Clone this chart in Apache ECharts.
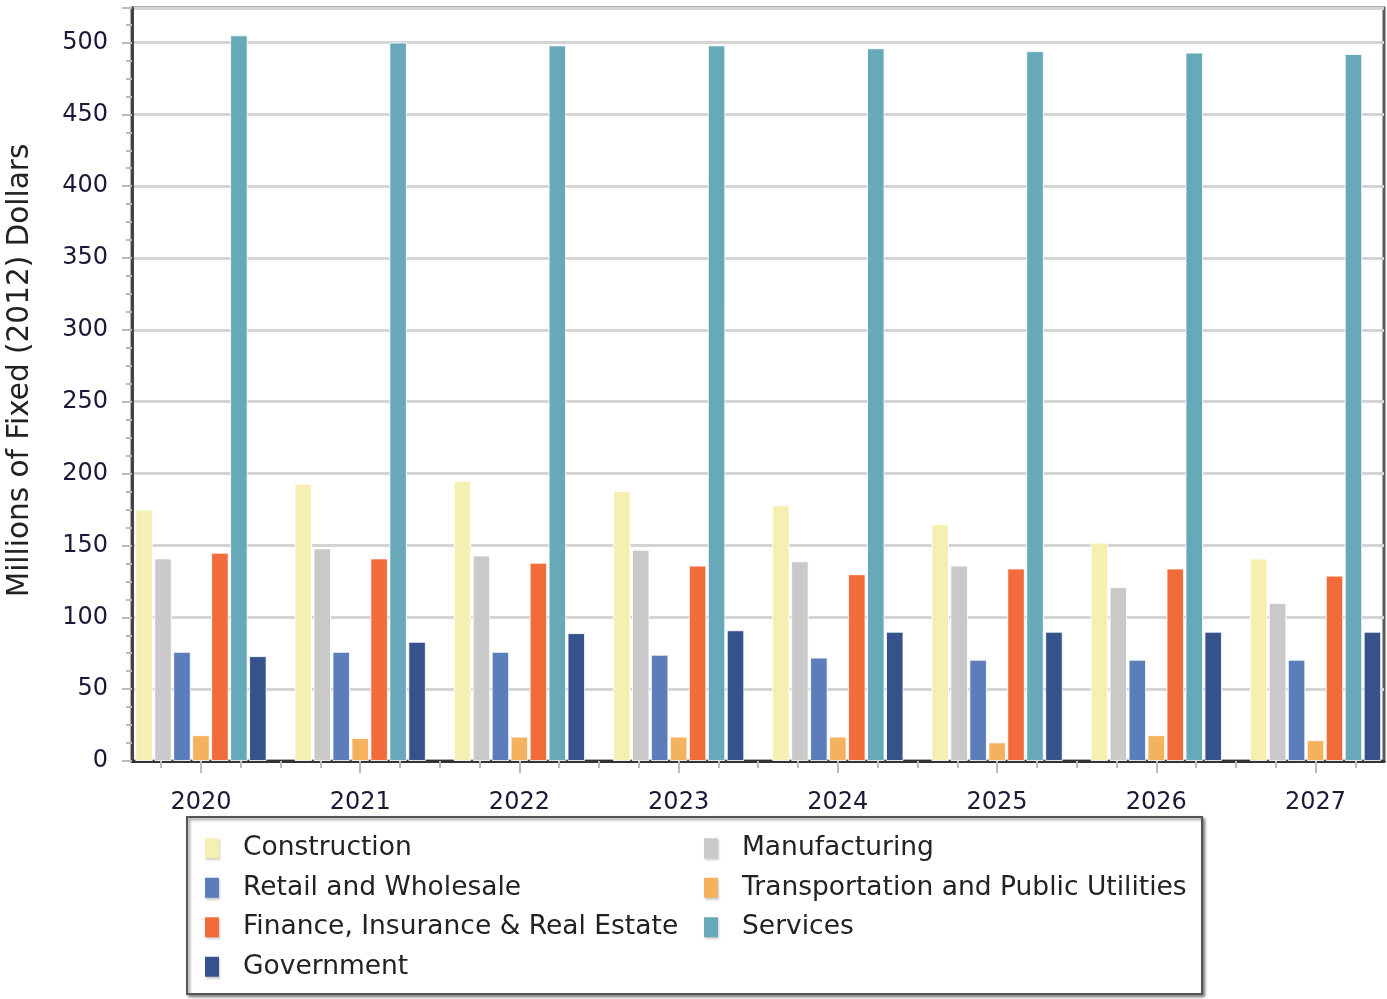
<!DOCTYPE html>
<html>
<head>
<meta charset="UTF-8">
<title>Output by Industry</title>
<script src="https://cdn.jsdelivr.net/npm/echarts@6.0.0/dist/echarts.min.js"></script>
<style>
  html, body { margin: 0; padding: 0; background: #fff; }
  #chart { width: 1387px; height: 999px; }
</style>
</head>
<body>
<div id="chart"></div>
<script>
// years on the x axis
var years = [2020, 2021, 2022, 2023, 2024, 2025, 2026, 2027];

// values, millions of fixed (2012) dollars
var construction  = [175, 193, 195, 188, 178, 165, 152, 141];
var manufacturing = [141, 148, 143, 147, 139, 136, 121, 110];
var retail        = [76, 76, 76, 74, 72, 70.5, 70.5, 70.5];
var transport     = [18, 16, 17, 17, 17, 13, 18, 14.5];
var finance       = [145, 141, 138, 136, 130, 134, 134, 129];
var services      = [505, 500, 498, 498, 496, 494, 493, 492];
var government    = [73, 83, 89, 91, 90, 90, 90, 90];

var names = ['Construction', 'Manufacturing', 'Retail and Wholesale',
  'Transportation and Public Utilities', 'Finance, Insurance & Real Estate',
  'Services', 'Government'];
var values = [construction, manufacturing, retail, transport, finance, services, government];
var colors = ['#f6efb2', '#c9c9c9', '#5b7dba', '#f4b15e', '#f26b3a', '#67a9b9', '#36528a'];

var xMin = 2019.567, xMax = 2027.43;

// small ticks every quarter year
var minorTicks = [];
years.forEach(function (y) {
  [-0.25, 0, 0.25, 0.5].forEach(function (d) {
    if (y + d > xMin && y + d < xMax) minorTicks.push(y + d);
  });
});

var labelFont = 'DejaVu Sans';
var labelColor = '#1a1a38';

var series = names.map(function (n, i) {
  return {
    name: n,
    type: 'bar',
    xAxisIndex: 0,
    barGap: '8%',
    barCategoryGap: '17.5%',
    data: years.map(function (y, j) { return [y, values[i][j]]; }),
    itemStyle: { color: colors[i], borderColor: 'rgba(255,255,255,0.85)', borderWidth: 1 },
    emphasis: { disabled: true }
  };
});

var chart = echarts.init(document.getElementById('chart'));
chart.setOption({
  animation: false,
  backgroundColor: '#fff',
  grid: {
    left: 132, right: 3, top: 8, bottom: 238,
    outerBoundsMode: 'none',
    show: true, backgroundColor: '#fff',
    borderColor: '#5a5a5a', borderWidth: 3
  },
  legend: {
    data: names,
    left: 187, top: 817,
    width: 1010,
    orient: 'horizontal',
    icon: 'rect',
    itemWidth: 14, itemHeight: 20,
    itemGap: 11,
    padding: [17, 10, 13, 18],
    backgroundColor: '#fff',
    borderColor: '#555', borderWidth: 2,
    shadowColor: 'rgba(0,0,0,0.45)', shadowBlur: 3, shadowOffsetX: 2, shadowOffsetY: 2,
    itemStyle: { borderWidth: 0, shadowColor: 'rgba(0,0,0,0.2)', shadowBlur: 2, shadowOffsetX: 1, shadowOffsetY: 2 },
    textStyle: {
      fontFamily: labelFont, fontSize: 26.5, color: '#222',
      width: 450, lineHeight: 28.5, padding: [0, 0, 0, 19]
    },
    selectedMode: false
  },
  xAxis: [{
    type: 'value',
    min: xMin, max: xMax,
    position: 'bottom',
    axisLine: { show: true, lineStyle: { color: '#333', width: 3 } },
    axisTick: { show: true, customValues: minorTicks, length: 7, lineStyle: { color: '#bbb', width: 2 } },
    axisLabel: {
      customValues: years,
      formatter: function (v) { return String(Math.round(v)); },
      fontFamily: labelFont, fontSize: 24, color: labelColor, margin: 30
    },
    splitLine: { show: false }
  }, {
    type: 'value',
    min: xMin, max: xMax,
    position: 'bottom',
    axisLine: { show: false },
    axisTick: { show: true, customValues: years, length: 12, lineStyle: { color: '#bbb', width: 2 } },
    axisLabel: { show: false },
    splitLine: { show: false }
  }],
  yAxis: {
    type: 'value',
    min: 0, max: 524, interval: 50,
    name: 'Millions of Fixed (2012) Dollars',
    nameLocation: 'middle',
    nameGap: 97,
    nameTextStyle: { fontFamily: labelFont, fontSize: 29.5, color: '#222', padding: [0, 0, 0, 28] },
    axisLine: { show: true, lineStyle: { color: '#444', width: 3 } },
    axisTick: { show: true, length: 10, lineStyle: { color: '#bbb', width: 2 } },
    minorTick: { show: true, splitNumber: 4, length: 6, lineStyle: { color: '#bbb', width: 2 } },
    axisLabel: { fontFamily: labelFont, fontSize: 24, color: labelColor, margin: 24, showMaxLabel: false },
    splitLine: { show: true, lineStyle: { color: '#d4d4d4', width: 3 } }
  },
  series: series
});
</script>
</body>
</html>
